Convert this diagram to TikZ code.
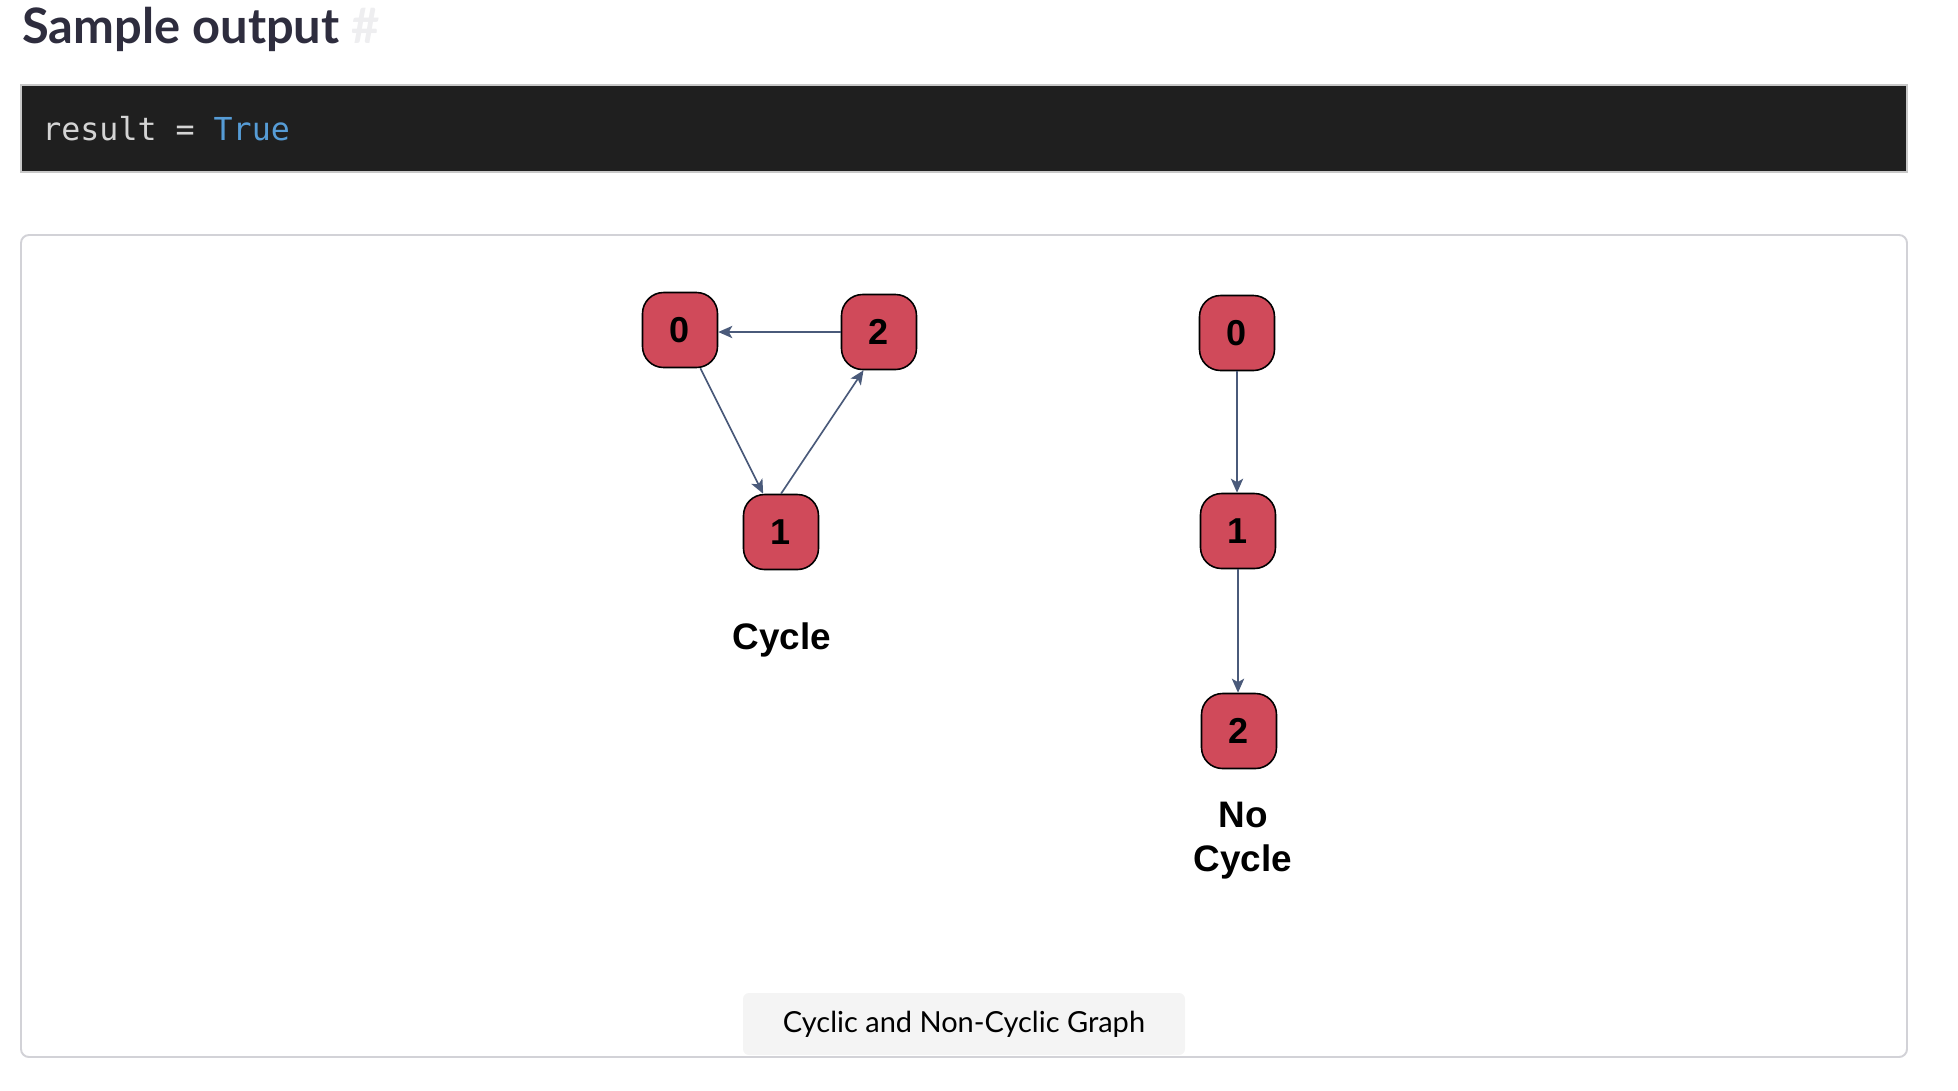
\documentclass[tikz,border=0pt]{standalone}
\usepackage{fontspec}
\setmainfont{Lato}
\newfontfamily\arialfont{Liberation Sans}
\setmonofont{DejaVu Sans Mono}
\usetikzlibrary{arrows.meta}
\definecolor{titlecol}{RGB}{46,45,62}
\definecolor{hashcol}{RGB}{238,238,240}
\definecolor{codebg}{RGB}{31,31,31}
\definecolor{codeline}{RGB}{200,200,200}
\definecolor{codetext}{RGB}{212,212,212}
\definecolor{codeblue}{RGB}{86,156,214}
\definecolor{framecol}{RGB}{210,210,215}
\definecolor{capbg}{RGB}{244,244,244}
\definecolor{vertexred}{RGB}{208,74,90}
\definecolor{edgecol}{RGB}{74,90,122}
\begin{document}
\begin{tikzpicture}[x=0.02cm, y=-0.02cm,
            vertex/.style={rectangle, rounded corners=0.42cm, draw=black, line width=0.9pt, fill=vertexred, minimum width=1.5cm, minimum height=1.5cm, inner sep=0pt, font=\arialfont\bfseries\fontsize{20.5}{22}\selectfont},
            edge/.style={draw=edgecol, line width=0.95pt, -{Stealth[length=8pt, width=7pt, inset=2pt]}},
            graphlabel/.style={align=center, font=\arialfont\bfseries\fontsize{21}{25}\selectfont},
        ]
            \useasboundingbox (0,0) rectangle (1958,1090);
            \node(title) at (22,43) [anchor=base west, text=titlecol, inner sep=0pt, font=\bfseries\fontsize{27.8}{30}\selectfont] {Sample output \textcolor{hashcol}{\#}};
            \draw[fill=codebg, draw=codeline, line width=1.1pt] (21,85) rectangle (1907,172);
            \node(code) at (42,140) [anchor=base west, inner sep=0pt, text=codetext, font=\ttfamily\fontsize{18}{20}\selectfont] {result = \textcolor{codeblue}{True}};
            \draw[draw=framecol, line width=1.1pt, rounded corners=0.16cm] (21,235) rectangle (1907,1057);
            \fill[capbg, rounded corners=0.12cm] (743,993) rectangle (1185,1055);
            \node(caption) at (964,1024) [font=\fontsize{16.5}{20}\selectfont] {Cyclic and Non-Cyclic Graph};
            \node(l0) at (680,330) [vertex] {0};
            \node(l2) at (879,332) [vertex] {2};
            \node(l1) at (781,532) [vertex] {1};
            \node(cyc) at (782,640) [graphlabel] {Cycle};
            \draw[edge] (l0.-62) -- (l1.115);
            \draw[edge] (l1.north) -- (l2.-112);
            \draw[edge] (l2.west) -- (l2.west -| l0.east);
            \node(r0) at (1237,333) [vertex] {0};
            \node(r1) at (1238,531) [vertex] {1};
            \node(r2) at (1239,731) [vertex] {2};
            \node(nocyc) at (1243,841) [graphlabel] {No\\Cycle};
            \draw[edge] (r0.south) -- (r0.south |- r1.north);
            \draw[edge] (r1.south) -- (r1.south |- r2.north);
        \end{tikzpicture}
\end{document}
